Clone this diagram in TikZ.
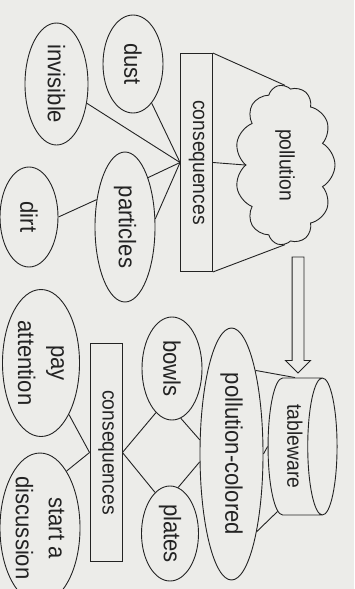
\documentclass[tikz,border=0pt]{standalone}
\usepackage{fontspec}
\setmainfont{Liberation Sans}[FakeStretch=0.92]
\usetikzlibrary{shapes.geometric,shapes.symbols,shapes.arrows,positioning}
\definecolor{paper}{RGB}{236,236,233}
\definecolor{ink}{RGB}{35,35,35}

\begin{document}
\begin{tikzpicture}[x=1pt,y=1pt,
      idea/.style={
         ellipse,
         draw=ink,
         line width=0.9pt,
         inner sep=0pt,
         text=ink,
         align=center,
         font=\fontsize{24}{33}\selectfont},
      consbox/.style={
         rectangle,
         draw=ink,
         line width=0.9pt,
         inner sep=0pt,
         text=ink,
         minimum width=218pt,
         minimum height=32pt,
         font=\fontsize{21}{24}\selectfont},
      cloudy/.style={
         cloud,
         draw=ink,
         line width=0.9pt,
         cloud puffs=11,
         cloud puff arc=120,
         aspect=1.6,
         inner sep=0pt,
         minimum width=160pt,
         minimum height=100pt,
         text=ink,
         font=\fontsize{21}{24}\selectfont},
      drum/.style={
         cylinder,
         shape border rotate=90,
         draw=ink,
         line width=0.9pt,
         aspect=0.35,
         inner sep=0pt,
         minimum width=137pt,
         minimum height=69pt,
         text=ink,
         font=\fontsize{21}{24}\selectfont},
      bigarrow/.style={
         single arrow,
         draw=ink,
         line width=0.9pt,
         inner xsep=0pt,
         inner ysep=5.5pt,
         minimum height=116pt,
         single arrow head extend=6.5pt,
         single arrow head indent=0pt,
         single arrow tip angle=90},
      link/.style={
         draw=ink,
         line width=0.9pt},
      ]
      \fill[paper] (0,0) rectangle (354,-589);
      \useasboundingbox (0,0) rectangle (354,-589);
      \clip (0,0) rectangle (354,-589);

      \begin{scope}[rotate=-90, transform shape]
      % first map
      \node[cloudy] (pollution) at (165,285) {pollution};
      \node[consbox] (cons1) at (162.5,196.5) {consequences};
      \node[idea,minimum width=98pt,minimum height=60pt] (dust) at (64,133) {dust};
      \node[idea,minimum width=122pt,minimum height=63pt] (invisible) at (84,56.5) {invisible};
      \node[idea,minimum width=150pt,minimum height=60pt] (particles) at (227,125) {particles};
      \node[idea,minimum width=100pt,minimum height=58pt] (dirt) at (217,29) {dirt};

      \node[bigarrow] (move) at (312,298) {};

      % second map
      \node[drum] (tableware) at (446.5,295) {tableware};
      \node[idea,minimum width=252pt,minimum height=63pt] (pollcol) at (454,231.5) {pollution-colored};
      \node[idea,minimum width=103pt,minimum height=60pt] (bowls) at (368.5,172) {bowls};
      \node[idea,minimum width=95pt,minimum height=57pt] (plates) at (533.5,170) {plates};
      \node[consbox] (cons2) at (452.5,106) {consequences};
      \node[idea,minimum width=147pt,minimum height=77pt] (payatt) at (363,41) {pay\\attention};
      \node[idea,minimum width=150pt,minimum height=80pt] (startdisc) at (528,40) {start a\\discussion};

    \foreach \i/\j in {% from/to
      cons1.north west/pollution.west,
      cons1.north/pollution.south,
      cons1.north east/pollution.east,
      cons1.south/dust,
      cons1.south/invisible,
      cons1.south/particles.155,
      cons1.south/particles.105,
      dirt.north/particles.226}
      \draw [link] (\i) -- (\j);

    \foreach \i/\j in {% from/to
      pollcol.164/tableware.180,
      pollcol.north/tableware.270,
      pollcol.18/tableware.-15,
      pollcol.246/bowls.10,
      pollcol.284/plates.170,
      cons2.north/bowls.340,
      cons2.north/plates.200,
      cons2.south/payatt,
      cons2.south/startdisc.155}
      \draw [link] (\i) -- (\j);
      \end{scope}
\end{tikzpicture}
\end{document}
